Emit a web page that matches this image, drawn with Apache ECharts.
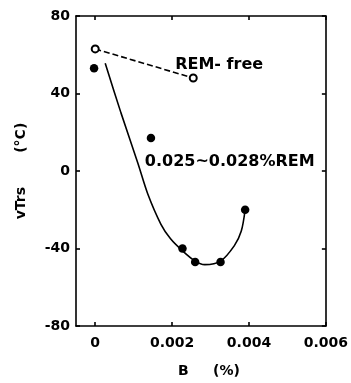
<!DOCTYPE html>
<html><head><meta charset="utf-8">
<script src="https://cdn.jsdelivr.net/npm/echarts@6/dist/echarts.min.js"></script>
<style>html,body{margin:0;padding:0;background:#fff}#c{width:351px;height:383px}</style>
</head><body><div id="c"></div>
<script>
var xTicks = [0, 0.002, 0.004, 0.006];
var yTicks = [-80, -40, 0, 40, 80];
var remFree = [[0, 63], [0.00255, 48]];
var remPoints = [[-0.00003, 53], [0.00145, 17], [0.00227, -40], [0.0026, -47], [0.00326, -47], [0.0039, -20]];
var remCurve = [[0.00026, 55.6], [0.00067, 30], [0.00111, 4], [0.00137, -12], [0.00171, -27.5], [0.00196, -35], [0.00226, -41], [0.0026, -46.5], [0.00285, -48.3], [0.00326, -46.5], [0.00362, -38.5], [0.0038, -31], [0.0039, -20]];
var labelTexts = ['REM- free', '0.025~0.028%REM'];
var labelPos = [[0.00208, 55], [0.00129, 4.5]];

var FONT = 'DejaVu Sans';
var lineStyle = {color: '#000', width: 1.6};
var chart = echarts.init(document.getElementById('c'), null, {renderer: 'canvas'});
var baseX = {
  type: 'value', min: -0.0005, max: 0.006,
  axisLine: {show: true, onZero: false, lineStyle: lineStyle},
  axisTick: {show: true, inside: true, length: 4, lineStyle: lineStyle, customValues: xTicks},
  splitLine: {show: false}
};
var baseY = {
  type: 'value', min: -80, max: 80,
  axisLine: {show: true, onZero: false, lineStyle: lineStyle},
  axisTick: {show: true, inside: true, length: 4, lineStyle: lineStyle, customValues: yTicks},
  splitLine: {show: false}
};
chart.setOption({
  animation: false,
  grid: {left: 76, right: 22, top: 16, bottom: 57, containLabel: false},
  xAxis: [
    Object.assign({}, baseX, {
      position: 'bottom',
      name: 'B     (%)', nameLocation: 'middle', nameGap: 38,
      nameTextStyle: {color: '#000', fontFamily: FONT, fontSize: 14, fontWeight: 'bold', padding: [0, 0, 0, 16]},
      axisLabel: {show: true, customValues: xTicks, color: '#000', fontFamily: FONT, fontSize: 14, fontWeight: 'bold', margin: 10,
        formatter: function (v) { return v === 0 ? '0' : v.toFixed(3); }}
    }),
    Object.assign({}, baseX, {position: 'top', axisLabel: {show: false}})
  ],
  yAxis: [
    Object.assign({}, baseY, {
      position: 'left',
      name: 'vTrs       (°C)', nameLocation: 'middle', nameGap: 48, nameRotate: 90,
      nameTextStyle: {color: '#000', fontFamily: FONT, fontSize: 14, fontWeight: 'bold'},
      axisLabel: {show: true, customValues: yTicks, color: '#000', fontFamily: FONT, fontSize: 14, fontWeight: 'bold', margin: 6,
        formatter: function (v) { return String(v); }}
    }),
    Object.assign({}, baseY, {position: 'right', axisLabel: {show: false}})
  ],
  series: [
    {type: 'line', data: remFree, symbol: 'emptyCircle', symbolSize: 7,
      lineStyle: {color: '#000', width: 1.6, type: [6, 3]}, itemStyle: {color: '#000', borderWidth: 1.4, opacity: 1}, z: 3},
    {type: 'line', data: remCurve, smooth: 0.3, symbol: 'none', lineStyle: {color: '#000', width: 1.6}, z: 2},
    {type: 'scatter', data: remPoints, symbol: 'circle', symbolSize: 8.5, itemStyle: {color: '#000', opacity: 1}, z: 4},
    {type: 'scatter', symbolSize: 0, silent: true, itemStyle: {opacity: 1},
      data: labelPos.map(function (p, i) { return {value: p, name: labelTexts[i]}; }),
      label: {show: true, position: 'right', distance: 0, formatter: '{b}', color: '#000', fontFamily: FONT, fontSize: 16, fontWeight: 'bold'}}
  ]
});
</script></body></html>
